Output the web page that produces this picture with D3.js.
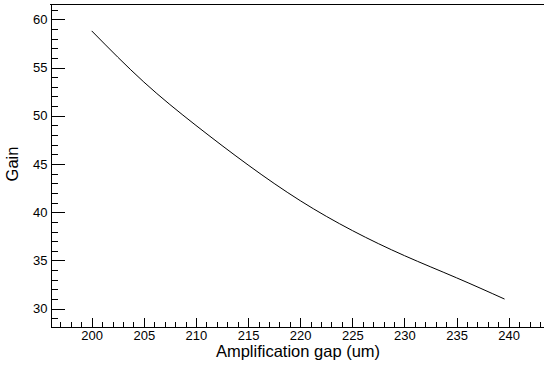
<!DOCTYPE html>
<html>
<head>
<meta charset="utf-8">
<script src="https://cdn.jsdelivr.net/npm/d3@7"></script>
<style>
  body { margin: 0; background: #fff; }
  svg { display: block; font-family: "Liberation Sans", Arial, Helvetica, sans-serif; }
  .axis path, .axis line { stroke: #000; stroke-width: 1; shape-rendering: crispEdges; }
  .axis text { font-size: 13px; fill: #000; }
</style>
</head>
<body>
<script>
// values
const gap  = [200, 205, 210, 215, 220, 225, 230, 235, 239.6];
const gain = [58.8, 53.5, 49.0, 44.9, 41.2, 38.1, 35.5, 33.2, 31.0];

const xMajor = [200, 205, 210, 215, 220, 225, 230, 235, 240];
const yMajor = [30, 35, 40, 45, 50, 55, 60];

const width = 544, height = 367;
const frame = { left: 50, top: 4, right: 560, bottom: 326.7 };

const svg = d3.select("body").append("svg")
    .attr("width", width)
    .attr("height", height);

const x = d3.scaleLinear().domain([196.0, 244.92]).range([frame.left, frame.right]);
const y = d3.scaleLinear().domain([28.134, 61.586]).range([frame.bottom, frame.top]);

// top frame line
svg.append("line")
    .attr("x1", frame.left).attr("x2", frame.right)
    .attr("y1", frame.top + 0.5).attr("y2", frame.top + 0.5)
    .attr("stroke", "#000");

// y axis: minor then major
svg.append("g").attr("class", "axis")
    .attr("transform", `translate(${frame.left + 0.5},0)`)
    .call(d3.axisLeft(y).tickValues(d3.range(29, 62, 1)).tickSizeInner(-7).tickSizeOuter(0).tickFormat(""));
svg.append("g").attr("class", "axis")
    .attr("transform", `translate(${frame.left + 0.5},0)`)
    .call(d3.axisLeft(y).tickValues(yMajor).tickSizeInner(-14).tickSizeOuter(0).tickPadding(3));

// x axis: minor then major
svg.append("g").attr("class", "axis")
    .attr("transform", `translate(0,${frame.bottom})`)
    .call(d3.axisBottom(x).tickValues(d3.range(197, 245, 1)).tickSizeInner(-4.5).tickSizeOuter(0).tickFormat(""));
svg.append("g").attr("class", "axis")
    .attr("transform", `translate(0,${frame.bottom})`)
    .call(d3.axisBottom(x).tickValues(xMajor).tickSizeInner(-9).tickSizeOuter(0).tickPadding(4));

// curve
const line = d3.line()
    .x((d, i) => x(gap[i]))
    .y(d => y(d))
    .curve(d3.curveNatural);

svg.append("path")
    .datum(gain)
    .attr("fill", "none")
    .attr("stroke", "#000")
    .attr("stroke-width", 1)
    .attr("d", line);

// axis titles
svg.append("text")
    .attr("x", 298).attr("y", 357)
    .attr("text-anchor", "middle")
    .style("font-size", "16.5px")
    .text("Amplification gap (um)");

svg.append("text")
    .attr("transform", "translate(17.5,164) rotate(-90)")
    .attr("text-anchor", "middle")
    .style("font-size", "16.5px")
    .text("Gain");
</script>
</body>
</html>
